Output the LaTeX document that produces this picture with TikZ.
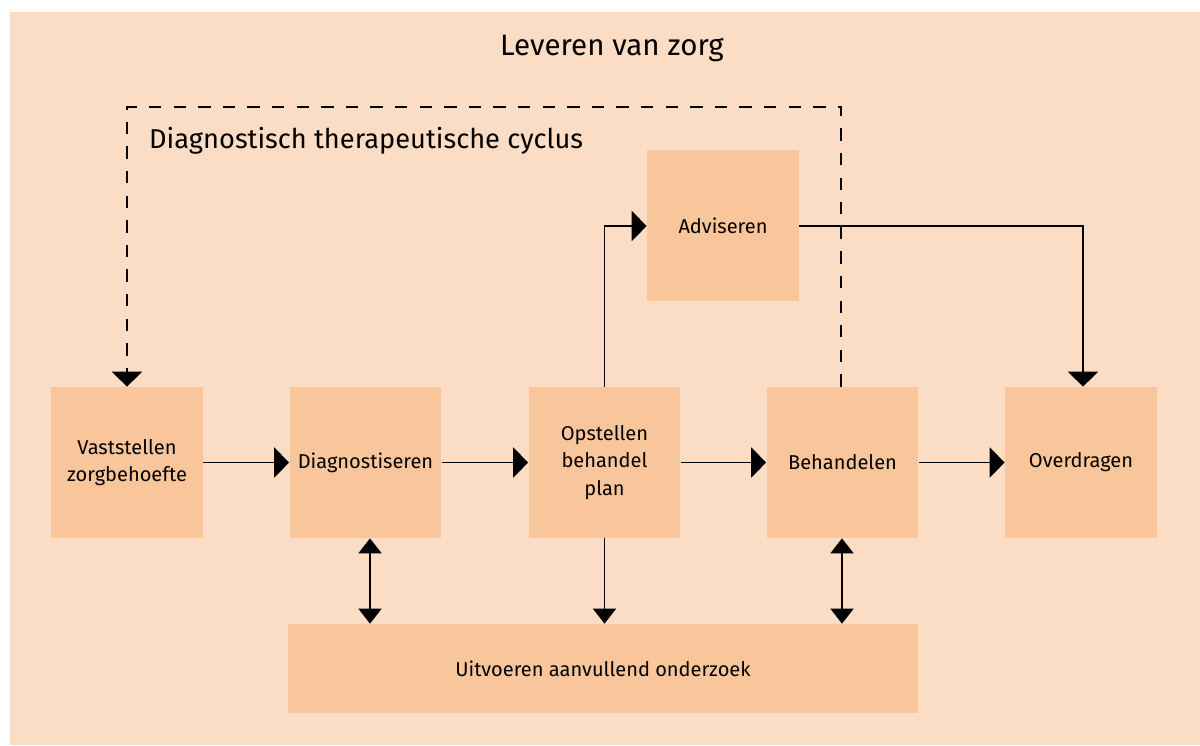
\documentclass[tikz,border=0pt]{standalone}
\usepackage{fontspec}
\setmainfont{Fira Sans}
\usetikzlibrary{arrows.meta}

\definecolor{zorgbg}{HTML}{FBDCC4}
\definecolor{stapfill}{HTML}{F9C59B}
\tikzset{
  stap/.style={shape=rectangle,fill=stapfill,align=center,minimum width=3.04cm,minimum height=3.02cm,inner sep=0pt,font=\fontsize{11.4}{15.5}\selectfont},
  grootkop/.tip={Triangle[length=8.5pt,width=17pt]},
  kleinkop/.tip={Triangle[length=8.5pt,width=13pt]},
  pijl/.style={-grootkop,draw=black,line width=1.1pt},
  onderpijl/.style={-kleinkop,draw=black,line width=1.1pt},
  tweepijl/.style={kleinkop-kleinkop,draw=black,line width=1.1pt},
  cyclus/.style={draw=black,line width=1.1pt,dash pattern=on 7pt off 7pt}
}

\begin{document}
\begin{tikzpicture}[x=0.02cm,y=-0.02cm]
\useasboundingbox (0,0) rectangle (1200,745);
\fill[zorgbg] (10,12) rectangle (1200,745);

\node[align=center,font=\fontsize{16.8}{19}\selectfont] (titel) at (612,48) {Leveren van zorg};
\node[anchor=west,font=\fontsize{15.5}{19}\selectfont] (cyclustitel) at (143,141) {Diagnostisch therapeutische cyclus};

\node[stap] (vast) at (127,462.5) {Vaststellen\\zorgbehoefte};
\node[stap] (diag) at (365.5,462.5) {Diagnostiseren};
\node[stap] (opst) at (604.5,462.5) {Opstellen\\behandel\\plan};
\node[stap] (beh) at (842.5,462.5) {Behandelen};
\node[stap] (over) at (1081,462.5) {Overdragen};
\node[stap] (advi) at (723,225.5) {Adviseren};
\node[stap,minimum width=12.6cm,minimum height=1.78cm] (uitv) at (603,668.5) {Uitvoeren aanvullend onderzoek};

\coordinate (hoekL) at (127,107);
\coordinate (hoekR) at (841,107);
\coordinate (opstop) at (604.5,226);
\coordinate (advrechts) at (1083,226);

\path [pijl] (vast) -- (diag);
\path [pijl] (diag) -- (opst);
\path [pijl] (opst) -- (beh);
\path [pijl] (beh) -- (over);
\path [pijl] (opst.north) -- (opstop) -- (advi.west |- opstop);
\path [pijl] (advi.east |- advrechts) -- (advrechts) -- (over.north -| advrechts);
\path [tweepijl] (diag.south -| 370,0) -- (uitv.north -| 370,0);
\path [onderpijl] (opst.south) -- (uitv.north -| opst.south);
\path [tweepijl] (beh.south -| 842,0) -- (uitv.north -| 842,0);
\path [cyclus,-grootkop] (beh.north -| hoekR) -- (hoekR) -- (hoekL) -- (vast.north);
\end{tikzpicture}
\end{document}
